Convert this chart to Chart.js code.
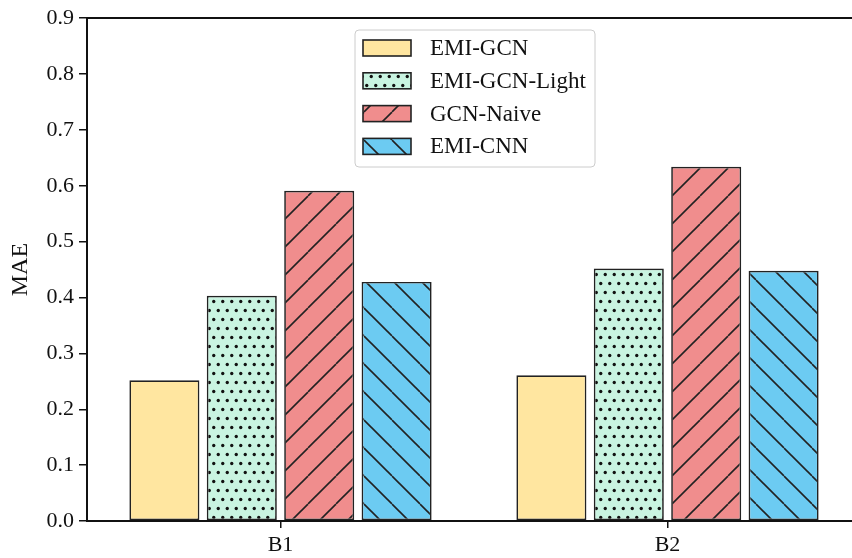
<!DOCTYPE html>
<html>
<head>
<meta charset="utf-8">
<script src="https://cdn.jsdelivr.net/npm/chart.js@4.4.1/dist/chart.umd.min.js"></script>
<style>
  body { margin: 0; overflow: hidden; background: #fff; }
  #wrap { width: 861px; height: 558px; }
</style>
</head>
<body>
<div id="wrap"><canvas id="myChart" width="861" height="558"></canvas></div>
<script>
// data
const categories = ['B1', 'B2'];
const seriesNames = ['EMI-GCN', 'EMI-GCN-Light', 'GCN-Naive', 'EMI-CNN'];
const emiGcn = [0.252, 0.261];
const emiGcnLight = [0.403, 0.452];
const gcnNaive = [0.591, 0.634];
const emiCnn = [0.428, 0.448];
const yTicks = [0, 0.1, 0.2, 0.3, 0.4, 0.5, 0.6, 0.7, 0.8, 0.9];

const fills = ['#FFE6A0', '#C9F4E1', '#F08D8D', '#6CCBF2'];
const hatches = ['none', 'dots', 'fwd', 'back'];

// hatch patterns
function makePattern(bg, type) {
  const c = document.createElement('canvas');
  const s = type === 'dots' ? 9 : 28;
  c.width = s;
  c.height = type === 'dots' ? 18 : s;
  const g = c.getContext('2d');
  g.fillStyle = bg;
  g.fillRect(0, 0, c.width, c.height);
  g.strokeStyle = '#222';
  g.fillStyle = '#111';
  g.lineWidth = 1.6;
  if (type === 'fwd' || type === 'back') {
    for (let k = -1; k <= 1; k++) {
      g.beginPath();
      if (type === 'fwd') {
        g.moveTo(k * s, s);
        g.lineTo(k * s + s, 0);
      } else {
        g.moveTo(k * s, 0);
        g.lineTo(k * s + s, s);
      }
      g.stroke();
    }
  } else if (type === 'dots') {
    [[2.25, 4.5], [6.75, 13.5]].forEach(function(p) {
      g.beginPath();
      g.arc(p[0], p[1], 1.65, 0, Math.PI * 2);
      g.fill();
    });
  }
  if (type === 'none') return bg;
  return g.createPattern(c, 'repeat');
}

const patterns = fills.map(function(f, i) { return makePattern(f, hatches[i]); });
const values = [emiGcn, emiGcnLight, gcnNaive, emiCnn];

// legend drawn inside the plot
const boxLegend = {
  id: 'boxLegend',
  afterDraw(chart) {
    const ctx = chart.ctx;
    const x = 355, y = 30, w = 240, h = 137;
    ctx.save();
    ctx.beginPath();
    ctx.roundRect(x, y, w, h, 4);
    ctx.fillStyle = 'rgba(255,255,255,0.85)';
    ctx.fill();
    ctx.strokeStyle = '#cccccc';
    ctx.lineWidth = 1;
    ctx.stroke();
    chart.data.datasets.forEach(function(ds, i) {
      const cy = 48 + i * 32.8;
      ctx.fillStyle = ds.backgroundColor;
      ctx.fillRect(363, cy - 8, 48, 16);
      ctx.strokeStyle = '#222';
      ctx.lineWidth = 1.6;
      ctx.strokeRect(363, cy - 8, 48, 16);
      ctx.fillStyle = '#111';
      ctx.font = '23px "Liberation Serif"';
      ctx.textBaseline = 'middle';
      ctx.textAlign = 'left';
      ctx.fillText(ds.label, 430, cy + 1);
    });
    ctx.restore();
  }
};

Chart.defaults.font.family = '"Liberation Serif", "Times New Roman", serif';
Chart.defaults.font.size = 22;
Chart.defaults.color = '#111';

const data = {
  labels: categories,
  datasets: seriesNames.map(function(name, i) {
    return {
      label: name,
      data: values[i],
      backgroundColor: patterns[i],
      borderColor: '#222',
      borderWidth: 1.7,
      borderSkipped: false,
      categoryPercentage: 0.8,
      barPercentage: 0.905
    };
  })
};

const config = {
  type: 'bar',
  data: data,
  options: {
    responsive: false,
    animation: false,
    layout: { padding: 0 },
    plugins: {
      legend: { display: false },
      tooltip: { enabled: false }
    },
    scales: {
      x: {
        grid: { offset: false, drawOnChartArea: false, tickLength: 7, color: '#111', lineWidth: 1.5 },
        border: { color: '#111', width: 2 },
        ticks: { padding: 4, color: '#111' },
        afterFit(scale) { scale.height = 37; }
      },
      x2: {
        position: 'top',
        grid: { display: false },
        ticks: { display: false },
        border: { color: '#111', width: 2 },
        afterFit(scale) { scale.height = 18; }
      },
      y: {
        min: 0,
        max: 0.9,
        afterBuildTicks(scale) { scale.ticks = yTicks.map(function(v) { return { value: v }; }); },
        ticks: {
          padding: 5,
          color: '#111',
          callback: function(v) { return Number(v).toFixed(1); }
        },
        grid: { drawOnChartArea: false, tickLength: 8, color: '#111', lineWidth: 1.5 },
        border: { color: '#111', width: 2 },
        title: { display: true, text: 'MAE', color: '#111', font: { size: 24 }, padding: { top: 6, bottom: 0 } },
        afterFit(scale) { scale.width = 87; }
      }
    }
  },
  plugins: [boxLegend]
};

const myChart = new Chart(document.getElementById('myChart'), config);
</script>
</body>
</html>
